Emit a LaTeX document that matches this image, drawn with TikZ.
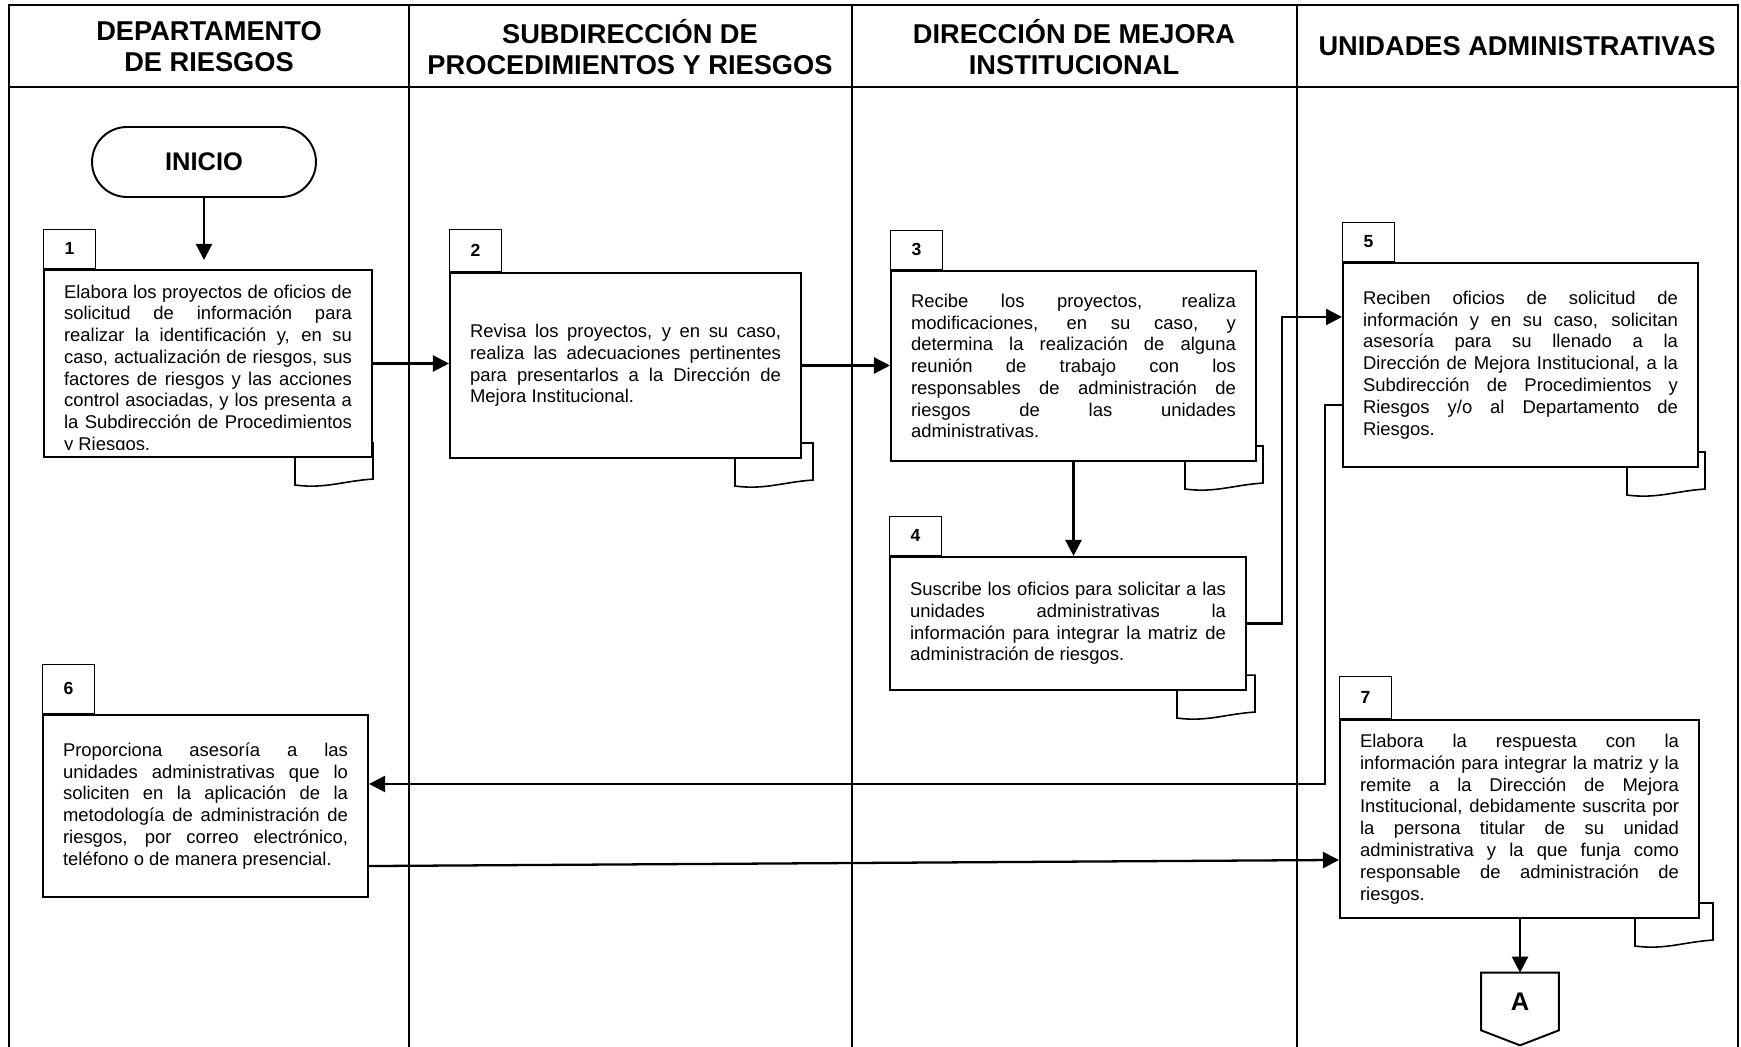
\documentclass[tikz,border=0pt]{standalone}
\usepackage{fontspec}
\setmainfont{Liberation Sans}
\usetikzlibrary{arrows.meta,calc}
\hyphenpenalty=10000
\exhyphenpenalty=10000
\tolerance=10000

\tikzset{
  caja/.style={draw,line width=1.2pt,inner xsep=0.4cm,inner ysep=0pt,align=justify,
    font=\fontsize{10.5}{12.4}\selectfont},
  numero/.style={draw,line width=0.7pt,anchor=south west,minimum width=1.04cm,
    minimum height=0.78cm,inner sep=0pt,font=\bfseries\fontsize{10}{12}\selectfont},
  titulo/.style={align=center,font=\bfseries\fontsize{15.5}{17.5}\selectfont},
  flecha/.style={line width=1.3pt,-{Triangle[length=0.32cm,width=0.32cm]}},
  hojita/.style={line width=0.9pt}
}

\newcommand{\hoja}[2]{%
  \draw[hojita] ($(#1.south east)+(#2-78,0)$) -- ++(0,27)
    .. controls +(30,4) and +(-30,2) .. ($(#1.south east)+(#2,21)$)
    -- ($(#1.south east)+(#2,-16)$) -- ($(#1.south east)+(0,-16)$);}

\begin{document}
\begin{tikzpicture}[x=0.02cm,y=-0.02cm]
  \fill[white] (0,0) rectangle (1741,1047);
  \useasboundingbox (0,0) rectangle (1741,1047);

  \draw[line width=1.6pt] (9,1047) -- (9,5) -- (1738,5) -- (1738,1047);
  \draw[line width=1.6pt] (9,87) -- (1738,87);
  \foreach \x in {409,852,1297}
    \draw[line width=1.2pt] (\x,5) -- (\x,1047);

  \node[titulo] (t1) at (209,47) {DEPARTAMENTO\\DE RIESGOS};
  \node[titulo] (t2) at (630,47) {SUBDIRECCIÓN DE\\PROCEDIMIENTOS Y RIESGOS};
  \node[titulo] (t3) at (1074,47) {DIRECCIÓN DE MEJORA\\INSTITUCIONAL};
  \node[titulo] (t4) at (1517,46) {UNIDADES ADMINISTRATIVAS};

  \node[draw,line width=1.1pt,rounded corners=0.7cm,minimum width=4.48cm,minimum height=1.4cm,
    font=\bfseries\fontsize{14.5}{17}\selectfont] (inicio) at (204,162) {INICIO};

  \node[caja,text width=5.76cm,minimum height=3.74cm] (b1) at (208,363.5) {};
  \begin{scope}
    \clip (44,270) rectangle (372,449);
    \node[caja,draw=none,text width=5.76cm] (b1t) at ($(b1.center)+(0,6)$)
      {Elabora los proyectos de oficios de\linebreak solicitud de información para\linebreak
       realizar la identificación y, en su\linebreak caso, actualización de riesgos, sus\linebreak
       factores de riesgos y las acciones\linebreak control asociadas, y los presenta a\linebreak
       la Subdirección de Procedimientos\linebreak y Riesgos.};
  \end{scope}

  \node[caja,text width=6.22cm,minimum height=3.7cm] (b2) at (625.5,365.5)
    {Revisa los proyectos, y en su caso,\linebreak realiza las adecuaciones pertinentes\linebreak
     para presentarlos a la Dirección de\linebreak Mejora Institucional.};

  \node[caja,text width=6.5cm,minimum height=3.8cm] (b3) at (1073.5,366)
    {Recibe los proyectos, realiza\linebreak modificaciones, en su caso, y\linebreak
     determina la realización de alguna\linebreak reunión de trabajo con los\linebreak
     responsables de administración de\linebreak riesgos de las unidades\linebreak
     administrativas.};

  \node[caja,text width=6.32cm,minimum height=2.66cm] (b4) at (1068,623.5)
    {Suscribe los oficios para solicitar a las\linebreak unidades administrativas la\linebreak
     información para integrar la matriz de\linebreak administración de riesgos.};

  \node[caja,text width=6.3cm,minimum height=4.08cm] (b5) at (1520.5,365)
    {Reciben oficios de solicitud de\linebreak información y en su caso, solicitan\linebreak
     asesoría para su llenado a la\linebreak Dirección de Mejora Institucional, a la\linebreak
     Subdirección de Procedimientos y\linebreak Riesgos y/o al Departamento de\linebreak
     Riesgos.};

  \node[caja,text width=5.7cm,minimum height=3.64cm] (b6) at (205.5,806)
    {Proporciona asesoría a las\linebreak unidades administrativas que lo\linebreak
     soliciten en la aplicación de la\linebreak metodología de administración de\linebreak
     riesgos, por correo electrónico,\linebreak teléfono o de manera presencial.};

  \node[caja,text width=6.38cm,minimum height=3.96cm] (b7) at (1519.5,819)
    {Elabora la respuesta con la\linebreak información para integrar la matriz y la\linebreak
     remite a la Dirección de Mejora\linebreak Institucional, debidamente suscrita por\linebreak
     la persona titular de su unidad\linebreak administrativa y la que funja como\linebreak
     responsable de administración de\linebreak riesgos.};

  \node[numero] (n1) at (b1.north west) {1};
  \node[numero,minimum height=0.84cm] (n2) at (b2.north west) {2};
  \node[numero] (n3) at (b3.north west) {3};
  \node[numero] (n4) at (b4.north west) {4};
  \node[numero] (n5) at (b5.north west) {5};
  \node[numero,minimum height=0.98cm] (n6) at (b6.north west) {6};
  \node[numero,minimum height=0.84cm] (n7) at (b7.north west) {7};

  \hoja{b1}{0}
  \hoja{b2}{11}
  \hoja{b3}{6}
  \hoja{b4}{8}
  \hoja{b5}{6}
  \hoja{b7}{13}

  \node[minimum width=1.54cm,minimum height=1.14cm,
    font=\bfseries\fontsize{14.5}{17}\selectfont] (conA) at (1520,1001.5) {A};
  \draw[line width=1.1pt] (conA.north west) -- (conA.north east) -- (conA.south east)
    -- ($(conA.south)+(0,15)$) -- (conA.south west) -- cycle;

  \draw[flecha,shorten >=0.18cm] (inicio) -- (inicio |- b1.north);
  \draw[flecha] (b1.east) -- (b1.east -| b2.west);
  \draw[flecha] (b2.east) -- (b2.east -| b3.west);
  \draw[flecha] (b3.south) -- (b3.south |- b4.north);
  \draw[flecha] (b4.east) -- ++(35,0) |- ($(b5.north west)+(0,55)$);
  \draw[flecha] ($(b5.north west)+(0,143)$) -- ++(-17,0) |- ($(b6.north east)+(0,70)$);
  \draw[flecha] ($(b6.south east)+(0,-32)$) -- ($(b7.north west)+(0,141)$);
  \draw[flecha] (b7.south -| conA.north) -- (conA.north);
\end{tikzpicture}
\end{document}
